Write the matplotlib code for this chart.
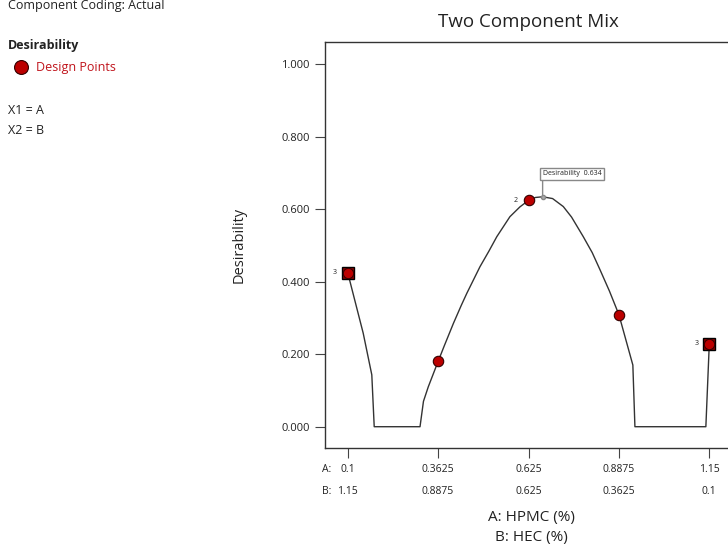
import matplotlib
matplotlib.use('Agg')
import matplotlib.pyplot as plt
import matplotlib.transforms as mtransforms

plt.rcParams['font.family'] = ['Open Sans', 'Noto Sans', 'DejaVu Sans']

# Desirability trace along the mixture axis (A = HPMC)
curve_a = [0.1, 0.145, 0.170, 0.177, 0.310, 0.320, 0.334, 0.3625, 0.38, 0.407,
           0.43, 0.446, 0.484, 0.51, 0.533, 0.571, 0.60, 0.625, 0.645, 0.666,
           0.695, 0.726, 0.75, 0.784, 0.81, 0.833, 0.86, 0.8875, 0.928, 0.934,
           1.140, 1.15]
curve_d = [0.425, 0.258, 0.143, 0.0, 0.0, 0.070, 0.110, 0.180, 0.222, 0.285,
           0.335, 0.368, 0.441, 0.484, 0.524, 0.579, 0.606, 0.624, 0.632, 0.634,
           0.629, 0.607, 0.578, 0.524, 0.480, 0.432, 0.374, 0.309, 0.170, 0.0,
           0.0, 0.229]

# Design points and replicate counts
dp_a = [0.1, 0.3625, 0.625, 0.8875, 1.15]
dp_d = [0.425, 0.180, 0.624, 0.309, 0.229]
dp_reps = [3, 1, 2, 1, 3]

# Peak flag
peak_a = 0.666
peak_d = 0.634

# Tick labels for the two components
a_ticks = [0.1, 0.3625, 0.625, 0.8875, 1.15]
a_labels = ['0.1', '0.3625', '0.625', '0.8875', '1.15']
b_labels = ['1.15', '0.8875', '0.625', '0.3625', '0.1']
y_ticks = [0.0, 0.2, 0.4, 0.6, 0.8, 1.0]

RED = '#bb0000'
TEXT = '#222222'

fig = plt.figure(figsize=(7.28, 5.44), dpi=100)
ax = fig.add_axes([325 / 728, 96 / 544, 407 / 728, 406 / 544])

ax.plot(curve_a, curve_d, color='#333333', lw=1.0, zorder=2)

# square behind points with replicates > 2
for a, d, r in zip(dp_a, dp_d, dp_reps):
    if r >= 3:
        ax.plot(a, d, marker='s', ms=8.5, mfc='#990000', mec='black', mew=1.0,
                ls='none', zorder=3, clip_on=False)
ax.plot(dp_a, dp_d, marker='o', ms=7.5, mfc=RED, mec='#330000', mew=0.8,
        ls='none', zorder=4, clip_on=False)
for a, d, r in zip(dp_a, dp_d, dp_reps):
    if r > 1:
        ax.annotate(str(r), (a, d), xytext=(-8, 0), textcoords='offset points',
                    ha='right', va='center', fontsize=5, color=TEXT)

# peak flag
ax.plot(peak_a, peak_d, marker='o', ms=3, mfc='#aaaaaa', mec='#888888',
        ls='none', zorder=5)
ax.annotate('Desirability  %.3f' % peak_d, (peak_a, peak_d), xytext=(0, 14),
            textcoords='offset points', ha='left', va='bottom', fontsize=5,
            color=TEXT,
            bbox=dict(boxstyle='square,pad=0.35', fc='white', ec='#888888', lw=1.0),
            arrowprops=dict(arrowstyle='-', color='#888888', lw=1.0,
                            relpos=(0, 0), shrinkA=0, shrinkB=0))

ax.set_xlim(0.0341, 1.2159)
ax.set_ylim(-0.0587, 1.0607)
ax.set_yticks(y_ticks)
ax.set_yticklabels(['%.3f' % v for v in y_ticks], fontsize=8, color=TEXT)
ax.set_xticks(a_ticks)
ax.set_xticklabels([])
ax.tick_params(axis='both', direction='out', length=7, width=0.8, color='#444444')
ax.tick_params(axis='y', pad=4)
for s in ax.spines.values():
    s.set_color('#333333')
    s.set_linewidth(1.0)

ax.set_title('Two Component Mix', fontsize=13.5, color=TEXT, pad=11)
ax.set_ylabel('Desirability', fontsize=10.5, color=TEXT, labelpad=25)

# two-row component tick labels
trans = mtransforms.blended_transform_factory(ax.transData, ax.transAxes)
for x, la, lb in zip(a_ticks, a_labels, b_labels):
    ax.text(x, -0.052, la, transform=trans, ha='center', va='center',
            fontsize=7.5, color=TEXT)
    ax.text(x, -0.108, lb, transform=trans, ha='center', va='center',
            fontsize=7.5, color=TEXT)
fig.text(322 / 728, 1 - 469 / 544, 'A:', ha='left', va='center', fontsize=7.5, color=TEXT)
fig.text(322 / 728, 1 - 492 / 544, 'B:', ha='left', va='center', fontsize=7.5, color=TEXT)
fig.text(531 / 728, 1 - 517 / 544, 'A: HPMC (%)', ha='center', va='center',
         fontsize=11, color=TEXT)
fig.text(531 / 728, 1 - 537 / 544, 'B: HEC (%)', ha='center', va='center',
         fontsize=11, color=TEXT)

# left-side legend / info
fig.text(8 / 728, 1 - 5 / 544, 'Component Coding: Actual', ha='left', va='center',
         fontsize=9, color=TEXT)
fig.text(8 / 728, 1 - 46 / 544, 'Desirability', ha='left', va='center',
         fontsize=9, fontweight='bold', color=TEXT)
fig.lines.append(plt.Line2D([21 / 728], [1 - 67 / 544], marker='o', ms=10,
                            mfc=RED, mec='#330000', mew=0.8, ls='none',
                            transform=fig.transFigure, figure=fig))
fig.text(36 / 728, 1 - 67 / 544, 'Design Points', ha='left', va='center',
         fontsize=9, color='#c0141c')
fig.text(8 / 728, 1 - 110 / 544, 'X1 = A', ha='left', va='center', fontsize=9, color=TEXT)
fig.text(8 / 728, 1 - 130 / 544, 'X2 = B', ha='left', va='center', fontsize=9, color=TEXT)

fig.savefig('out.png', dpi=100)
plt.close(fig)
